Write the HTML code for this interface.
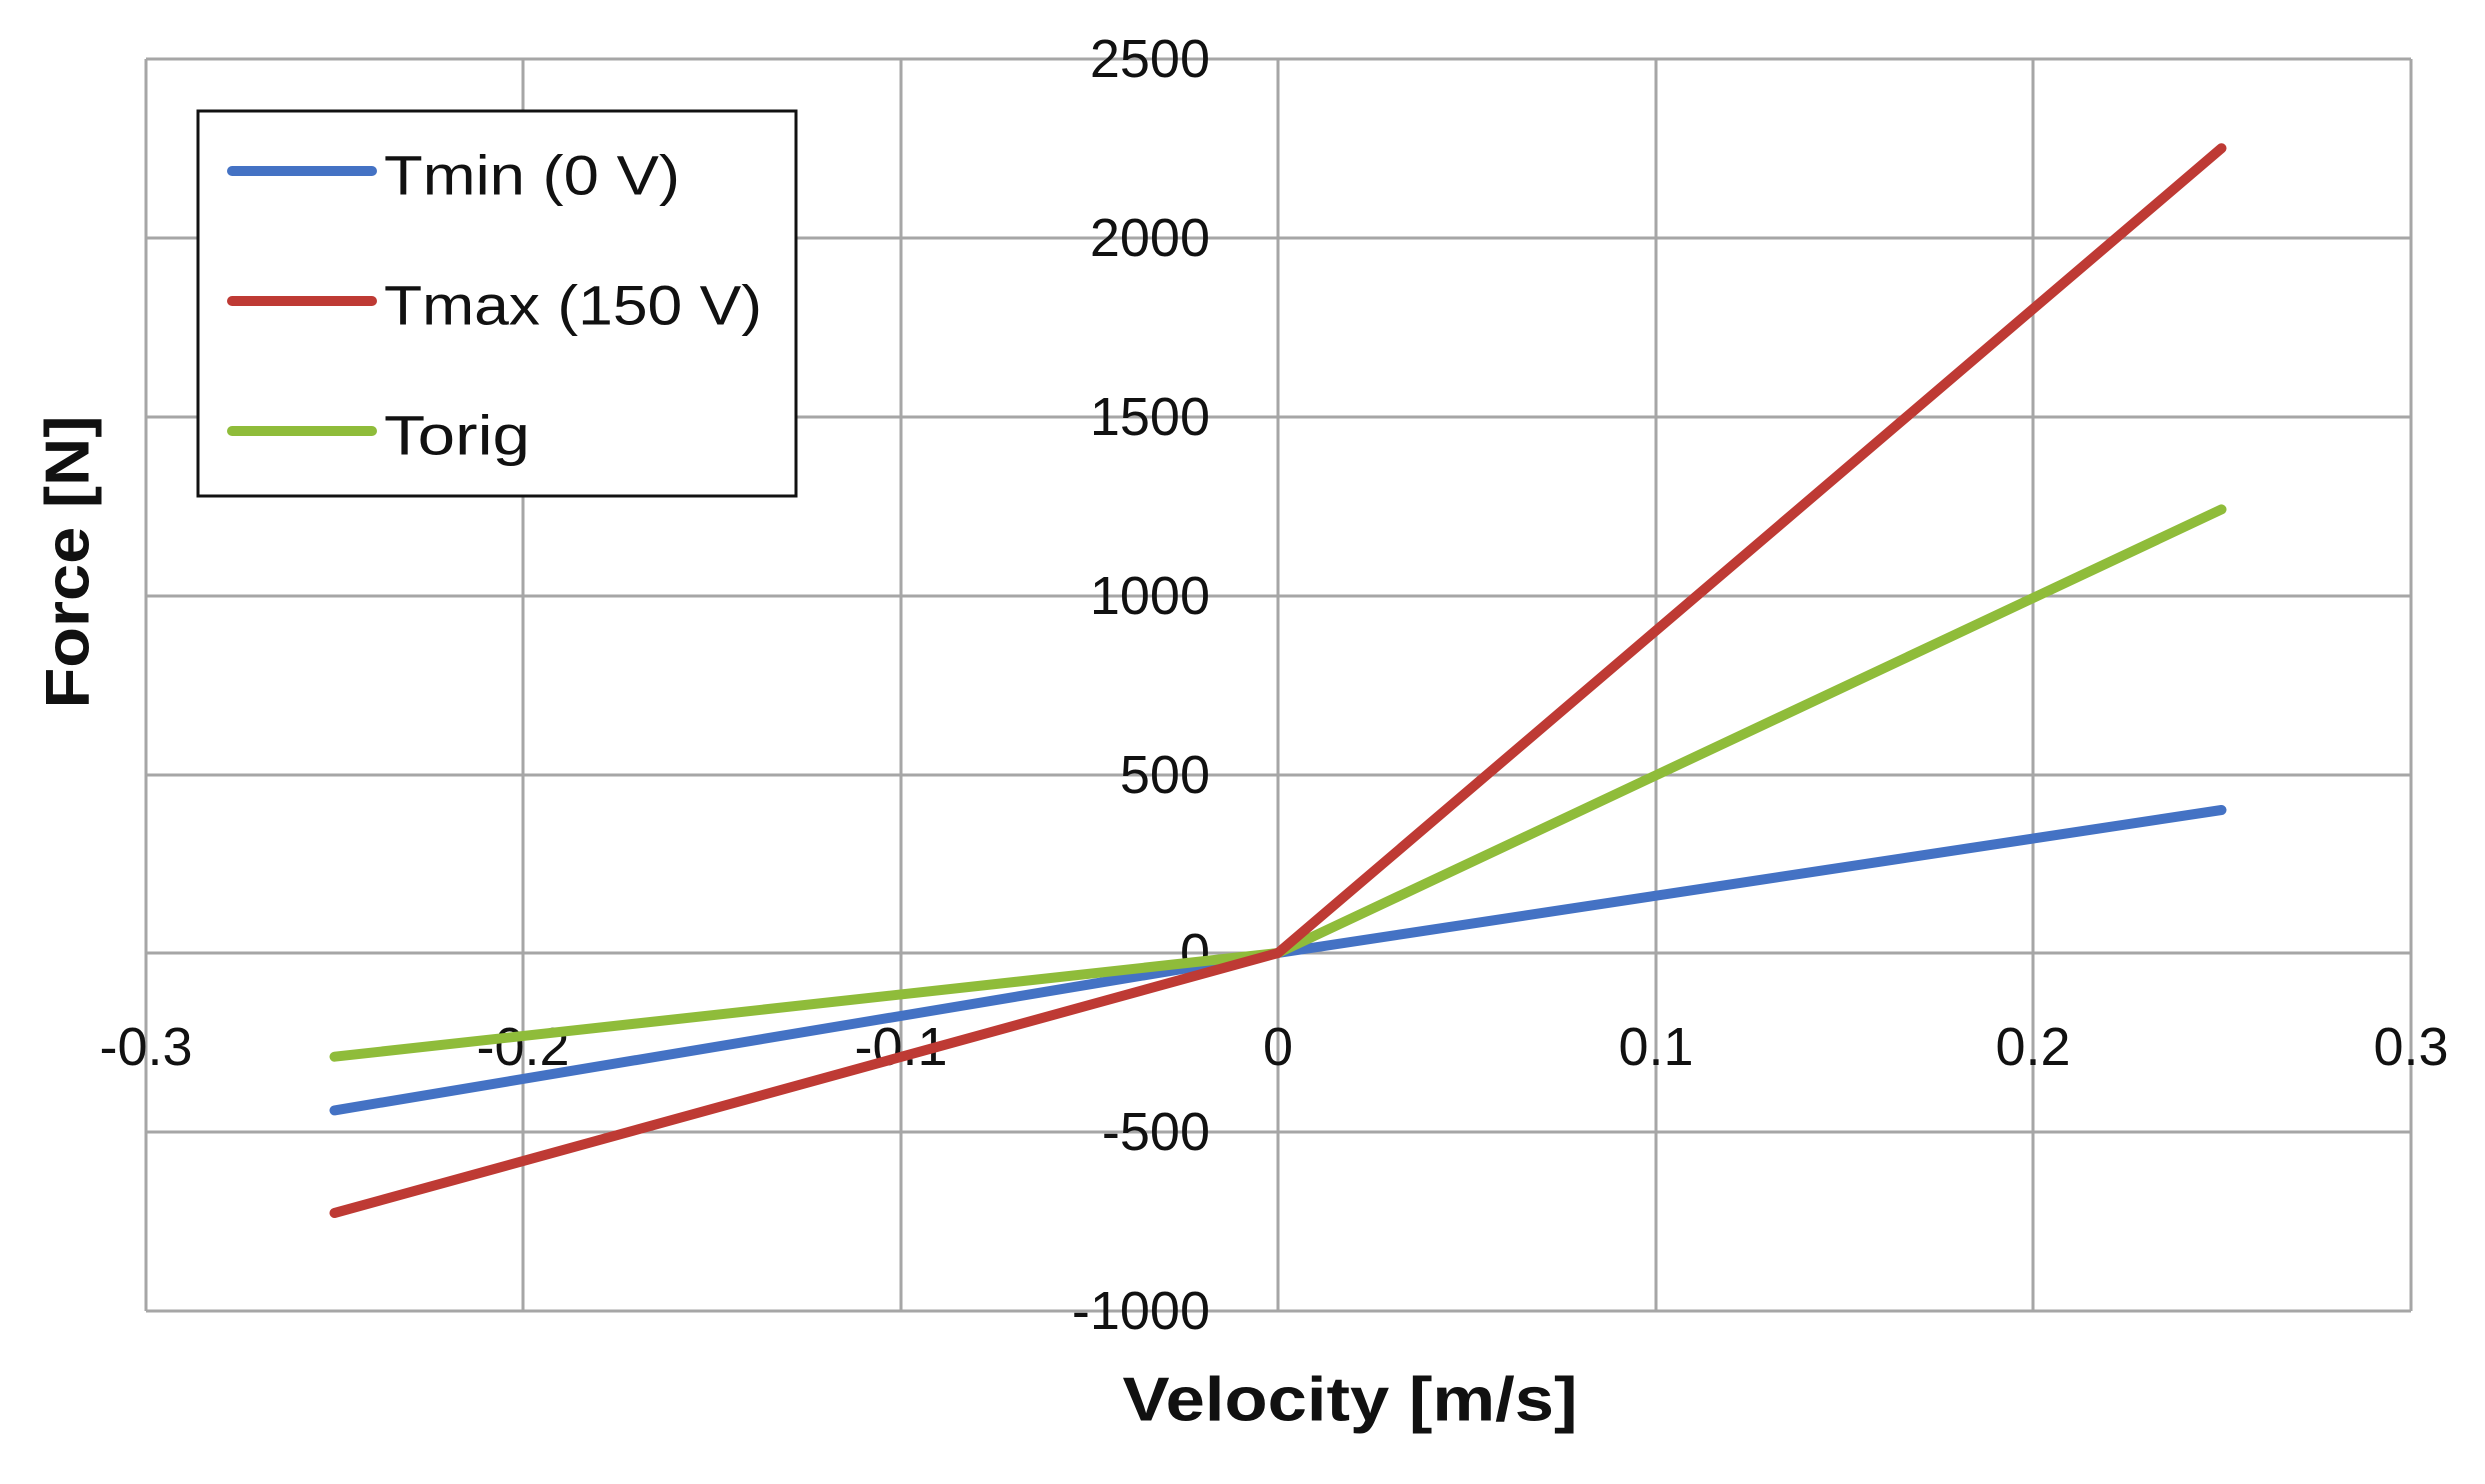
<!DOCTYPE html>
<html><head><meta charset="utf-8"><style>html,body{margin:0;padding:0;background:#fff}svg{display:block}</style></head>
<body>
<svg width="2485" height="1484" viewBox="0 0 2485 1484" xmlns="http://www.w3.org/2000/svg">
<rect width="2485" height="1484" fill="#fff"/>
<g stroke="#a6a6a6" stroke-width="3" fill="none">
<line x1="146" y1="59" x2="2411" y2="59"/>
<line x1="146" y1="238" x2="2411" y2="238"/>
<line x1="146" y1="417" x2="2411" y2="417"/>
<line x1="146" y1="596" x2="2411" y2="596"/>
<line x1="146" y1="775" x2="2411" y2="775"/>
<line x1="146" y1="953" x2="2411" y2="953"/>
<line x1="146" y1="1132" x2="2411" y2="1132"/>
<line x1="146" y1="1311" x2="2411" y2="1311"/>
<line x1="146" y1="59" x2="146" y2="1311"/>
<line x1="523" y1="59" x2="523" y2="1311"/>
<line x1="901" y1="59" x2="901" y2="1311"/>
<line x1="1278" y1="59" x2="1278" y2="1311"/>
<line x1="1656" y1="59" x2="1656" y2="1311"/>
<line x1="2033" y1="59" x2="2033" y2="1311"/>
<line x1="2411" y1="59" x2="2411" y2="1311"/>
</g>
<g font-family="Liberation Sans, sans-serif" font-size="54" fill="#111" text-anchor="end" dominant-baseline="central">
<text x="1210" y="59">2500</text>
<text x="1210" y="238">2000</text>
<text x="1210" y="417">1500</text>
<text x="1210" y="596">1000</text>
<text x="1210" y="775">500</text>
<text x="1210" y="953">0</text>
<text x="1210" y="1132">-500</text>
<text x="1210" y="1311">-1000</text>
</g>
<g font-family="Liberation Sans, sans-serif" font-size="54" fill="#111" text-anchor="middle" dominant-baseline="central">
<text x="146" y="1047">-0.3</text>
<text x="523" y="1047">-0.2</text>
<text x="901" y="1047">-0.1</text>
<text x="1278" y="1047">0</text>
<text x="1656" y="1047">0.1</text>
<text x="2033" y="1047">0.2</text>
<text x="2411" y="1047">0.3</text>
</g>
<g fill="none" stroke-width="10" stroke-linecap="round" stroke-linejoin="round">
<polyline stroke="#4472c4" points="334.5,1110.4 1278,953 2221.5,810"/>
<polyline stroke="#8fbc3a" points="334.5,1056.7 1278,953 2221.5,509.4"/>
<polyline stroke="#be3a34" points="334.5,1213 1278,953 2221.5,148.2"/>
</g>
<rect x="198" y="111" width="598" height="385" fill="#fff" stroke="#111" stroke-width="3"/>
<g stroke-width="10" stroke-linecap="round">
<line x1="232" y1="171" x2="372" y2="171" stroke="#4472c4"/>
<line x1="232" y1="301" x2="372" y2="301" stroke="#be3a34"/>
<line x1="232" y1="431" x2="372" y2="431" stroke="#8fbc3a"/>
</g>
<g font-family="Liberation Sans, sans-serif" font-size="56" fill="#111" dominant-baseline="central">
<text x="384" y="175" textLength="296" lengthAdjust="spacingAndGlyphs">Tmin (0 V)</text>
<text x="384" y="305" textLength="378" lengthAdjust="spacingAndGlyphs">Tmax (150 V)</text>
<text x="384" y="435" textLength="146" lengthAdjust="spacingAndGlyphs">Torig</text>
</g>
<text x="1350" y="1400" font-family="Liberation Sans, sans-serif" font-weight="bold" font-size="62" fill="#111" text-anchor="middle" dominant-baseline="central" textLength="455" lengthAdjust="spacingAndGlyphs">Velocity [m/s]</text>
<text transform="translate(68,562) rotate(-90)" font-family="Liberation Sans, sans-serif" font-weight="bold" font-size="62" fill="#111" text-anchor="middle" dominant-baseline="central" textLength="293" lengthAdjust="spacingAndGlyphs">Force [N]</text>
</svg>
</body></html>
